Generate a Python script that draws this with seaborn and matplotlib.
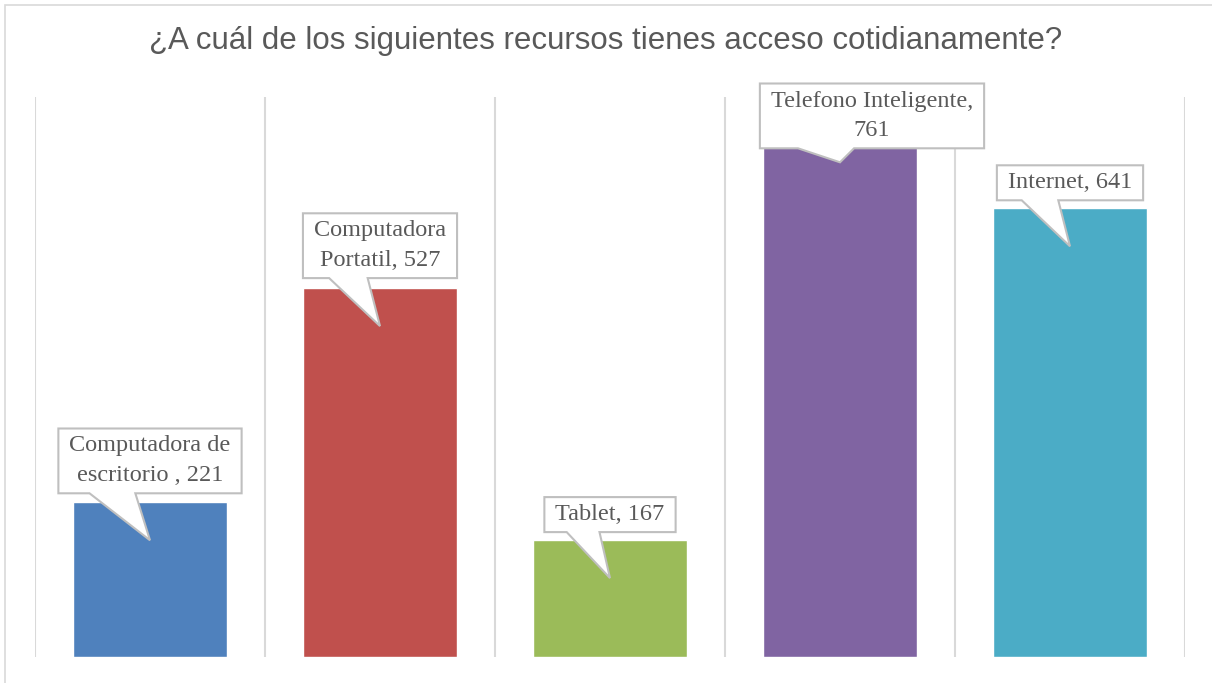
import matplotlib
matplotlib.use("Agg")
import matplotlib.pyplot as plt
import seaborn as sns
import pandas as pd
from matplotlib.patches import Polygon, Rectangle

# ---- data ----
categories = ["Computadora de escritorio ", "Computadora Portatil", "Tablet",
              "Telefono Inteligente", "Internet"]
values = [221, 527, 167, 761, 641]
label_texts = ["Computadora de\nescritorio , 221", "Computadora\nPortatil, 527",
               "Tablet, 167", "Telefono Inteligente,\n761", "Internet, 641"]
colors = ["#4F81BD", "#C0504D", "#9BBB59", "#8064A2", "#4BACC6"]
title = "¿A cuál de los siguientes recursos tienes acceso cotidianamente?"

df = pd.DataFrame({"cat": categories, "val": values})

sns.set_theme(style="white")
W, H = 1212, 683
fig = plt.figure(figsize=(W / 100, H / 100), dpi=100)
ax = fig.add_axes([35 / W, 1 - 657 / H, 1150 / W, 560 / H])

sns.barplot(data=df, x="cat", y="val", hue="cat", palette=colors,
            width=0.667, legend=False, ax=ax, saturation=1, zorder=2)

ax.set_xlim(-0.5, len(categories) - 0.5)
ax.set_ylim(0, 800)
for s in ax.spines.values():
    s.set_visible(False)
ax.set_xticks([])
ax.set_yticks([])
ax.set_xlabel("")
ax.set_ylabel("")
for i in range(len(categories) + 1):
    ax.axvline(i - 0.5, color="#d9d9d9", lw=1.5, zorder=1)

# chart border
fig.patches.append(Rectangle((5 / W, -0.01), 1.1, 1 - 5 / H + 0.01,
                             transform=fig.transFigure, fill=False,
                             edgecolor="#d9d9d9", lw=1.2))

fig.text(0.5, 1 - 41 / H, title, ha="center", va="center",
         fontsize=22.5, color="#595959", family="Liberation Sans")

# ---- callouts ----
fig.canvas.draw()
renderer = fig.canvas.get_renderer()
inv = ax.transData.inverted()
# per-label box offsets in pixels: (dx of box centre, box bottom relative to bar top, +down)
box_shift = [(0, -9), (0, -10), (0, -8), (32, 24), (0, -8)]
padx, pady = 11, 7
for i, (v, txt) in enumerate(zip(values, label_texts)):
    bx, by = ax.transData.transform((i, v))  # bar top (display, y up)
    dx, dy = box_shift[i]
    box_bottom = by - dy
    cx = bx + dx
    t = ax.text(*inv.transform((cx, box_bottom + pady)), txt, ha="center", va="bottom",
                multialignment="center", fontsize=17.5, color="#595959",
                family="Liberation Serif", linespacing=1.55, zorder=6, clip_on=False)
    ext = t.get_window_extent(renderer)
    left = ext.x0 - padx
    right = ext.x1 + padx
    top = ext.y1 + pady
    w = right - left
    tip = (bx, by - 38)
    b0 = left + 0.17 * w
    b1 = left + 0.42 * w
    verts = [(left, top), (right, top), (right, box_bottom), (b1, box_bottom),
             tip, (b0, box_bottom), (left, box_bottom)]
    verts = [tuple(inv.transform(p)) for p in verts]
    ax.add_patch(Polygon(verts, closed=True, facecolor="white", edgecolor="#bfbfbf",
                         lw=1.5, zorder=5, clip_on=False))

fig.savefig("out.png", dpi=100)
